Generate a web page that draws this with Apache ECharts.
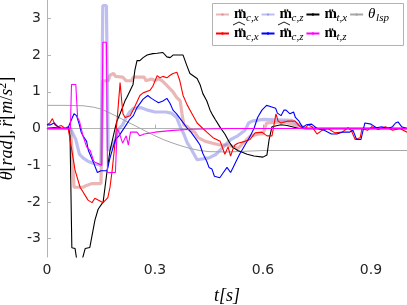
<!DOCTYPE html>
<html><head><meta charset="utf-8">
<script src="https://cdn.jsdelivr.net/npm/echarts@6/dist/echarts.min.js"></script>
<style>html,body{margin:0;padding:0;background:#fff}#c{width:407px;height:305px}</style>
</head><body><div id="c"></div>
<script>
// ---- data (t [s], value) ----
const xTicks = [0, 0.3, 0.6, 0.9];
const yTicks = [-3, -2, -1, 0, 1, 2, 3];

const mcx = [[0,0],[0.065,0],[0.069,-0.5],[0.075,-1.6],[0.1,-1.6],[0.11,-1.55],[0.125,-1.5],[0.15,-1.5],[0.155,1.3],[0.17,1.3],[0.175,1.45],[0.185,1.5],[0.19,1.42],[0.21,1.4],[0.22,1.3],[0.235,1.3],[0.24,1.4],[0.27,1.4],[0.275,1.3],[0.29,1.35],[0.3,1.3],[0.31,1.35],[0.32,1.3],[0.33,1.2],[0.34,1.1],[0.35,1.0],[0.36,0.85],[0.37,0.75],[0.375,0.4],[0.38,0.1],[0.39,0.05],[0.4,-0.05],[0.41,-0.1],[0.42,-0.25],[0.44,-0.35],[0.46,-0.4],[0.48,-0.45],[0.5,-0.45],[0.52,-0.5],[0.53,-0.55],[0.545,-0.4],[0.555,-0.3],[0.565,-0.2],[0.59,-0.15],[0.6,-0.15],[0.61,0.15],[0.66,0.18],[0.68,0.12],[0.7,0.05],[0.72,0],[1.0,0]];
const mcz = [[0,0],[0.065,0],[0.07,-0.05],[0.08,-0.3],[0.09,-0.7],[0.1,-0.8],[0.115,-0.9],[0.13,-0.95],[0.15,-1.0],[0.155,3.35],[0.165,3.35],[0.17,-0.6],[0.18,-0.5],[0.19,-0.3],[0.2,0.0],[0.21,0.1],[0.22,0.3],[0.23,0.45],[0.24,0.55],[0.26,0.57],[0.28,0.5],[0.3,0.45],[0.33,0.45],[0.345,0.42],[0.35,0.4],[0.36,0.3],[0.37,0.05],[0.38,-0.15],[0.39,-0.4],[0.4,-0.55],[0.417,-0.85],[0.45,-0.8],[0.47,-0.7],[0.49,-0.5],[0.51,-0.3],[0.53,-0.2],[0.55,-0.05],[0.56,0.15],[0.57,0.2],[0.6,0.25],[0.68,0.22],[0.7,0.1],[0.72,0],[1.0,0]];
const mtx = [[0,0],[0.02,0.02],[0.04,0],[0.06,0],[0.064,-0.2],[0.069,-3.25],[0.078,-3.27],[0.083,-3.6],[0.097,-3.6],[0.106,-3.27],[0.119,-3.24],[0.133,-2.5],[0.142,-2.2],[0.156,-2.0],[0.161,-1.96],[0.167,-1.15],[0.175,-0.6],[0.189,0],[0.194,0.2],[0.203,0.4],[0.217,0.76],[0.222,0.85],[0.239,1.2],[0.244,1.58],[0.25,1.85],[0.258,1.85],[0.267,1.93],[0.278,2.0],[0.294,2.04],[0.306,2.05],[0.322,2.07],[0.333,1.95],[0.342,1.93],[0.35,2.0],[0.378,2.0],[0.389,1.7],[0.397,1.5],[0.417,1.36],[0.425,1.2],[0.433,0.95],[0.444,0.75],[0.453,0.5],[0.461,0.35],[0.467,0.25],[0.481,0.03],[0.494,-0.15],[0.508,-0.4],[0.517,-0.52],[0.53,-0.6],[0.556,-0.7],[0.575,-0.75],[0.6,-0.78],[0.611,-0.72],[0.617,-0.3],[0.625,0.05],[0.65,0.1],[0.667,0.08],[0.7,0],[1.0,0]];
const thetaLsp = [[0,0.63],[0.05,0.63],[0.1,0.62],[0.13,0.58],[0.15,0.53],[0.175,0.42],[0.2,0.3],[0.225,0.17],[0.25,0.05],[0.275,-0.08],[0.3,-0.2],[0.325,-0.31],[0.35,-0.4],[0.375,-0.48],[0.4,-0.55],[0.425,-0.6],[0.45,-0.63],[0.5,-0.64],[0.55,-0.62],[0.6,-0.6],[0.7,-0.6],[0.8,-0.6],[1.0,-0.6]];
const hmcx = [[0,0.1],[0.008,0.15],[0.015,0.27],[0.022,0.1],[0.03,0.05],[0.04,0.08],[0.05,0.0],[0.058,0.05],[0.064,-0.3],[0.078,-1.14],[0.092,-1.6],[0.114,-1.95],[0.125,-2.02],[0.133,-1.9],[0.142,-1.95],[0.156,-2.02],[0.169,-1.88],[0.175,-1.6],[0.181,-1.14],[0.19,-0.3],[0.197,0.5],[0.203,1.25],[0.208,0.7],[0.211,0.4],[0.217,0.3],[0.222,0.3],[0.231,0.35],[0.244,0.6],[0.258,0.9],[0.267,0.97],[0.286,1.04],[0.294,1.15],[0.306,1.44],[0.314,1.38],[0.322,1.42],[0.333,1.38],[0.342,1.45],[0.35,1.5],[0.361,1.53],[0.369,1.3],[0.378,0.9],[0.389,0.65],[0.4,0.45],[0.417,0.15],[0.433,0.0],[0.444,-0.1],[0.461,-0.25],[0.481,-0.35],[0.494,-0.7],[0.503,-0.5],[0.51,-0.75],[0.517,-0.55],[0.522,-0.45],[0.53,-0.4],[0.55,-0.35],[0.564,-0.3],[0.578,-0.12],[0.597,-0.1],[0.611,-0.2],[0.625,-0.2],[0.636,0.4],[0.642,0.2],[0.65,0.15],[0.667,0.2],[0.689,0.2],[0.703,0.05],[0.717,0.0],[0.725,0.1],[0.736,0.05],[0.75,-0.15],[0.764,-0.05],[0.78,0.0],[0.8,-0.12],[0.82,-0.1],[0.836,0.02],[0.845,-0.05],[0.856,-0.3],[0.87,-0.25],[0.875,0.0],[0.89,-0.05],[0.903,0.05],[0.92,-0.03],[0.94,0.05],[0.96,-0.05],[0.98,0.0],[1.0,-0.1]];
const hmcz = [[0,0.1],[0.01,0.1],[0.02,0.15],[0.03,0.05],[0.04,0],[0.058,0],[0.064,0.15],[0.075,0.4],[0.082,0.35],[0.09,0.1],[0.095,-0.1],[0.1,-0.2],[0.11,-0.35],[0.115,-0.6],[0.13,-0.95],[0.14,-1.2],[0.15,-1.15],[0.167,-1.15],[0.175,-0.8],[0.19,-0.3],[0.2,-0.2],[0.21,-0.05],[0.22,0.1],[0.23,0.25],[0.24,0.35],[0.25,0.57],[0.267,0.8],[0.28,0.9],[0.29,0.82],[0.3,0.76],[0.31,0.7],[0.322,0.75],[0.333,0.82],[0.342,0.68],[0.35,0.5],[0.36,0.4],[0.375,0.2],[0.39,0.0],[0.4,-0.1],[0.417,-0.33],[0.425,-0.45],[0.433,-0.68],[0.444,-0.9],[0.45,-1.06],[0.458,-1.1],[0.465,-1.3],[0.48,-1.34],[0.49,-1.2],[0.5,-1.06],[0.51,-1.2],[0.517,-1.06],[0.525,-0.9],[0.535,-0.7],[0.55,-0.45],[0.565,-0.2],[0.575,0.0],[0.585,0.3],[0.597,0.5],[0.61,0.63],[0.62,0.6],[0.635,0.55],[0.64,0.42],[0.65,0.35],[0.658,0.5],[0.664,0.5],[0.675,0.4],[0.685,0.45],[0.69,0.3],[0.7,0.2],[0.71,0.03],[0.72,0.1],[0.735,0.12],[0.75,0.0],[0.77,-0.05],[0.79,-0.15],[0.805,-0.15],[0.82,-0.1],[0.84,-0.1],[0.85,-0.05],[0.86,-0.3],[0.872,-0.3],[0.883,0.15],[0.9,0.12],[0.915,0.02],[0.93,0.05],[0.945,0.0],[0.96,0.05],[0.968,0.15],[0.975,0.18],[0.985,0.05],[1.0,0.0]];
const mtz = [[0,0],[0.065,0],[0.068,1.2],[0.08,1.2],[0.085,0.3],[0.09,0.2],[0.1,-0.2],[0.11,-0.5],[0.12,-0.6],[0.13,-0.9],[0.14,-0.95],[0.152,-1.0],[0.155,2.35],[0.165,2.35],[0.168,-1.2],[0.19,-1.2],[0.195,0],[0.2,-0.1],[0.21,-0.4],[0.22,-0.2],[0.226,-0.45],[0.232,-0.1],[0.25,-0.1],[0.258,-0.2],[0.27,-0.15],[0.3,-0.1],[0.35,-0.05],[0.4,-0.02],[0.5,0],[1.0,0]];

const labelTxt = {
  mcx: '{m|m\u0308}{s1|c,x}', mcz: '{m|m\u0308}{s2|c,z}', mtx: '{m|m\u0308}{s2|t,x}', th: '{t|\u03b8}{s3|lsp}',
  hmcx: '{m|m\u0308}{s1|c,x}', hmcz: '{m|m\u0308}{s2|c,z}', mtz: '{m|m\u0308}{s2|t,z}'
};
const SERIF = 'Liberation Serif';
const rich = {
  m: {fontFamily: SERIF, fontWeight: 'bold', fontSize: 15, color: '#000', width: 12},
  t: {fontFamily: SERIF, fontStyle: 'italic', fontSize: 15, color: '#000', width: 8},
  s1: {fontFamily: SERIF, fontStyle: 'italic', fontSize: 11, color: '#000', width: 13, padding: [7, 0, 0, 0]},
  s2: {fontFamily: SERIF, fontStyle: 'italic', fontSize: 11, color: '#000', width: 18, padding: [7, 0, 0, 0]},
  s3: {fontFamily: SERIF, fontStyle: 'italic', fontSize: 11, color: '#000', width: 18, padding: [7, 0, 0, 0]}
};

function line(name, data, color, width, z) {
  return {name: name, type: 'line', data: data, symbol: 'none', z: z,
    lineStyle: {color: color, width: width}, itemStyle: {color: color}, clip: true, silent: true};
}
function hat(x, y) {
  return {type: 'polyline', z: 100, shape: {points: [[x, y + 3], [x + 6, y], [x + 12, y + 3]]},
    style: {stroke: '#000', lineWidth: 0.9, fill: null}};
}

const chart = echarts.init(document.getElementById('c'), null, {renderer: 'canvas'});
const axisFont = {fontFamily: 'DejaVu Sans', fontSize: 14, color: '#262626'};
chart.setOption({
  animation: false,
  grid: {left: 47, right: 0, top: 0, bottom: 48, containLabel: false, outerBoundsMode: 'none'},
  xAxis: {
    type: 'value', min: 0, max: 1,
    axisLine: {lineStyle: {color: '#b3b3b3', width: 1}},
    axisTick: {inside: true, length: 4, customValues: xTicks, lineStyle: {color: '#b3b3b3'}},
    axisLabel: Object.assign({customValues: xTicks, margin: 6}, axisFont),
    splitLine: {show: false},
    name: 't[s]', nameLocation: 'middle', nameGap: 30,
    nameTextStyle: {fontFamily: SERIF, fontStyle: 'italic', fontSize: 18, color: '#000'}
  },
  yAxis: {
    type: 'value', min: -3.5, max: 3.5,
    axisLine: {show: true, lineStyle: {color: '#b3b3b3', width: 1}},
    axisTick: {show: true, inside: true, length: 4, customValues: yTicks, lineStyle: {color: '#b3b3b3'}},
    axisLabel: Object.assign({customValues: yTicks, margin: 6}, axisFont),
    splitLine: {show: false},
    name: '{i|\u03b8}{u|[}{i|rad}{u|],} {i|r\u0308}{u|[}{i|m}{u|/}{i|s}{p|2}{u|]}',
    nameLocation: 'middle', nameGap: 26, nameRotate: 90,
    nameTextStyle: {
      rich: {
        i: {fontFamily: SERIF, fontStyle: 'italic', fontSize: 18, color: '#000'},
        u: {fontFamily: SERIF, fontSize: 18, color: '#000'},
        p: {fontFamily: SERIF, fontSize: 12, color: '#000', verticalAlign: 'top', padding: [0, 0, 8, 0]}
      }
    }
  },
  legend: [
    {data: ['mcx', 'mcz', 'mtx', 'th'], left: 215, top: 7, itemWidth: 13, itemHeight: 3, itemGap: 2, padding: 0,
     selectedMode: false, formatter: n => labelTxt[n], textStyle: {rich: rich}},
    {data: ['hmcx', 'hmcz', 'mtz'], left: 215, top: 26, itemWidth: 13, itemHeight: 3, itemGap: 2, padding: 0,
     selectedMode: false, formatter: n => labelTxt[n], textStyle: {rich: rich}}
  ],
  graphic: [
    {type: 'rect', left: 212, top: 3, shape: {width: 191, height: 42}, z: -1,
     style: {fill: '#fff', stroke: '#b3b3b3', lineWidth: 1}},
    hat(233, 22), hat(278, 22)
  ],
  series: [
    line('mcx', mcx, 'rgba(215,110,110,0.5)', 3.2, 1),
    line('mcz', mcz, 'rgba(110,110,225,0.45)', 3.2, 1),
    line('th', thetaLsp, '#a6a6a6', 1, 2),
    line('mtx', mtx, '#000000', 1.1, 3),
    line('hmcx', hmcx, '#ff0000', 1.1, 3),
    line('hmcz', hmcz, '#0000ff', 1.1, 3),
    line('mtz', mtz, '#ff00ff', 1.1, 3)
  ]
});
</script></body></html>
